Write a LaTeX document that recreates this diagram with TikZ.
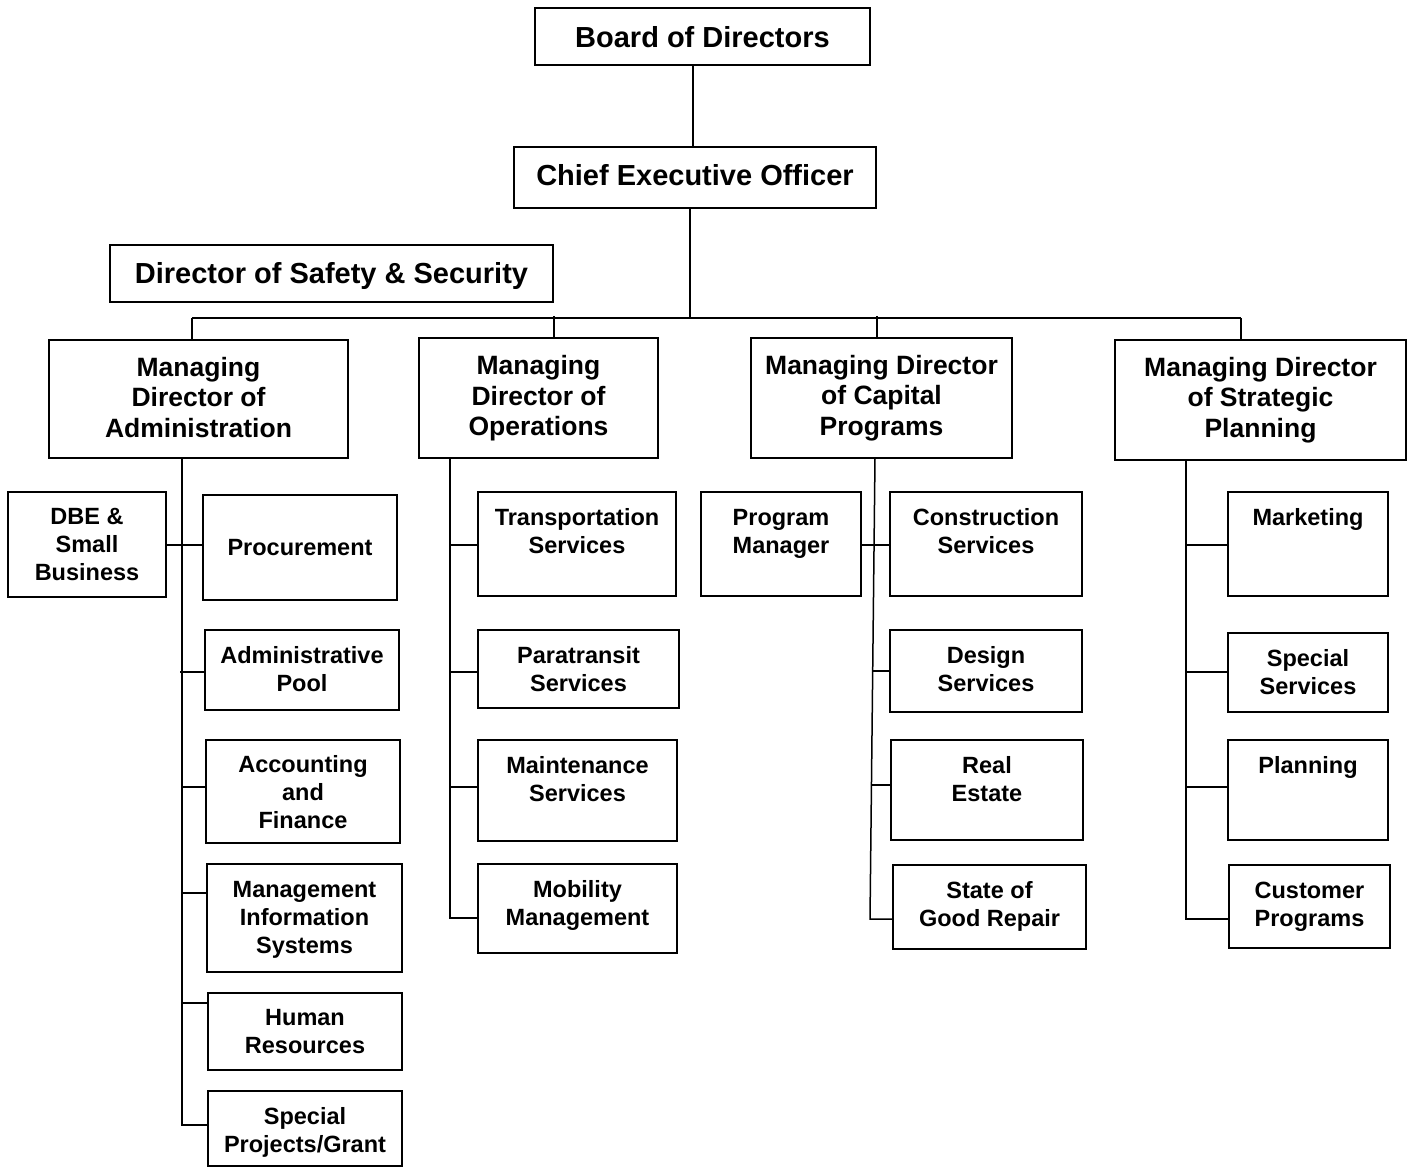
\documentclass[tikz,border=0pt]{standalone}
\usepackage{fontspec}
\setmainfont{Liberation Sans}
\tikzset{
  boxst/.style={draw, line width=1.5pt, inner sep=0pt, outer sep=0pt},
  ln/.style={line width=1.5pt},
  fbig/.style={font=\bfseries\fontsize{29}{34}\selectfont, text depth=6pt},
  fmid/.style={font=\bfseries\fontsize{26.5}{30.5}\selectfont, text depth=5.5pt},
  fsmall/.style={font=\bfseries\fontsize{23.5}{28}\selectfont, text depth=5pt},
}
\newcommand{\orgbox}[8]{%
  \node[boxst, minimum width={(#4-#2)*1pt}, minimum height={(#5-#3)*1pt}] (#1) at ({(#2+#4)/2},{(#3+#5)/2}) {};
  \node[#6, align=center, inner sep=0pt] (#1t) at ({(#2+#4)/2},#7) {#8};
}
\begin{document}
\begin{tikzpicture}[x=1pt,y=-1pt]
\fill[white] (0,0) rectangle (1413,1168);
\useasboundingbox (0,0) rectangle (1413,1168);

\orgbox{board}{535}{8}{870}{65}{fbig}{40}{Board of Directors}
\orgbox{ceo}{514}{147}{876}{208}{fbig}{178}{Chief Executive Officer}
\orgbox{dss}{110}{245}{553}{302}{fbig}{276}{Director of Safety \& Security}
\orgbox{mda}{49}{340}{348}{458}{fmid}{400}{Managing\\Director of\\Administration}
\orgbox{mdo}{419}{338}{658}{458}{fmid}{398.5}{Managing\\Director of\\Operations}
\orgbox{mdc}{751}{338}{1012}{458}{fmid}{398}{Managing Director\\of Capital\\Programs}
\orgbox{mds}{1115}{340}{1406}{460}{fmid}{400}{Managing Director\\of Strategic\\Planning}

\orgbox{dbe}{8}{492}{166}{597}{fsmall}{547}{DBE \&\\Small\\Business}
\orgbox{proc}{203}{495}{397}{600}{fsmall}{549.5}{Procurement}
\orgbox{apool}{205}{630}{399}{710}{fsmall}{671.5}{Administrative\\Pool}
\orgbox{acc}{206}{740}{400}{843}{fsmall}{794.5}{Accounting\\and\\Finance}
\orgbox{mis}{207}{864}{402}{972}{fsmall}{920}{Management\\Information\\Systems}
\orgbox{hr}{208}{993}{402}{1070}{fsmall}{1034}{Human\\Resources}
\orgbox{spg}{208}{1091}{402}{1166}{fsmall}{1132.5}{Special\\Projects/Grant}

\orgbox{trans}{478}{492}{676}{596}{fsmall}{533.5}{Transportation\\Services}
\orgbox{para}{478}{630}{679}{708}{fsmall}{671}{Paratransit\\Services}
\orgbox{maint}{478}{740}{677}{841}{fsmall}{781}{Maintenance\\Services}
\orgbox{mob}{478}{864}{677}{953}{fsmall}{905}{Mobility\\Management}

\orgbox{pm}{701}{492}{861}{596}{fsmall}{534}{Program\\Manager}
\orgbox{cons}{890}{492}{1082}{596}{fsmall}{533.5}{Construction\\Services}
\orgbox{des}{890}{630}{1082}{712}{fsmall}{671.5}{Design\\Services}
\orgbox{re}{891}{740}{1083}{840}{fsmall}{781.5}{Real\\Estate}
\orgbox{sgr}{893}{865}{1086}{949}{fsmall}{906}{State of\\Good Repair}

\orgbox{mkt}{1228}{492}{1388}{596}{fsmall}{519}{Marketing}
\orgbox{ssv}{1228}{633}{1388}{712}{fsmall}{674.5}{Special\\Services}
\orgbox{plan}{1228}{740}{1388}{840}{fsmall}{767}{Planning}
\orgbox{cust}{1229}{865}{1390}{948}{fsmall}{907}{Customer\\Programs}

% top connectors
\coordinate (t0) at (693,0);
\coordinate (t1) at (690,318);
\draw[ln] (t0 |- board.south) -- (t0 |- ceo.north);
\draw[ln] (t1 |- ceo.south) -- (t1);
\coordinate (bA) at (192,318);
\coordinate (bO) at (554,316);
\coordinate (bC) at (877,316);
\coordinate (bS) at (1241,318);
\draw[ln] (bA) -- (bS);
\draw[ln] (bA) -- (bA |- mda.north);
\draw[ln] (bO) -- (bO |- mdo.north);
\draw[ln] (bC) -- (bC |- mdc.north);
\draw[ln] (bS) -- (bS |- mds.north);

% administration
\coordinate (a1) at (182,545);
\coordinate (a2) at (180,672);
\coordinate (a3) at (182,787);
\coordinate (a4) at (182,893);
\coordinate (a5) at (182,1003);
\coordinate (a6) at (182,1125);
\draw[ln] (a6 |- mda.south) -- (a6) -- (a6 -| spg.west);
\draw[ln] (dbe.east |- a1) -- (a1 -| proc.west);
\draw[ln] (a2) -- (a2 -| apool.west);
\draw[ln] (a3) -- (a3 -| acc.west);
\draw[ln] (a4) -- (a4 -| mis.west);
\draw[ln] (a5) -- (a5 -| hr.west);

% operations
\coordinate (o1) at (450,545);
\coordinate (o2) at (450,672);
\coordinate (o3) at (450,787);
\coordinate (o4) at (450,918);
\draw[ln] (o4 |- mdo.south) -- (o4) -- (o4 -| mob.west);
\draw[ln] (o1) -- (o1 -| trans.west);
\draw[ln] (o2) -- (o2 -| para.west);
\draw[ln] (o3) -- (o3 -| maint.west);

% capital programs
\coordinate (c0) at (875,0);
\coordinate (c1) at (874,545);
\coordinate (c2) at (872,671);
\coordinate (c3) at (872,785);
\coordinate (c4) at (870,919);
\draw[ln] (c0 |- mdc.south) -- (c4) -- (c4 -| sgr.west);
\draw[ln] (pm.east |- c1) -- (c1 -| cons.west);
\draw[ln] (c2) -- (c2 -| des.west);
\draw[ln] (c3) -- (c3 -| re.west);

% strategic planning
\coordinate (s1) at (1186,545);
\coordinate (s2) at (1186,672);
\coordinate (s3) at (1186,787);
\coordinate (s4) at (1186,919);
\draw[ln] (s4 |- mds.south) -- (s4) -- (s4 -| cust.west);
\draw[ln] (s1) -- (s1 -| mkt.west);
\draw[ln] (s2) -- (s2 -| ssv.west);
\draw[ln] (s3) -- (s3 -| plan.west);
\end{tikzpicture}
\end{document}
